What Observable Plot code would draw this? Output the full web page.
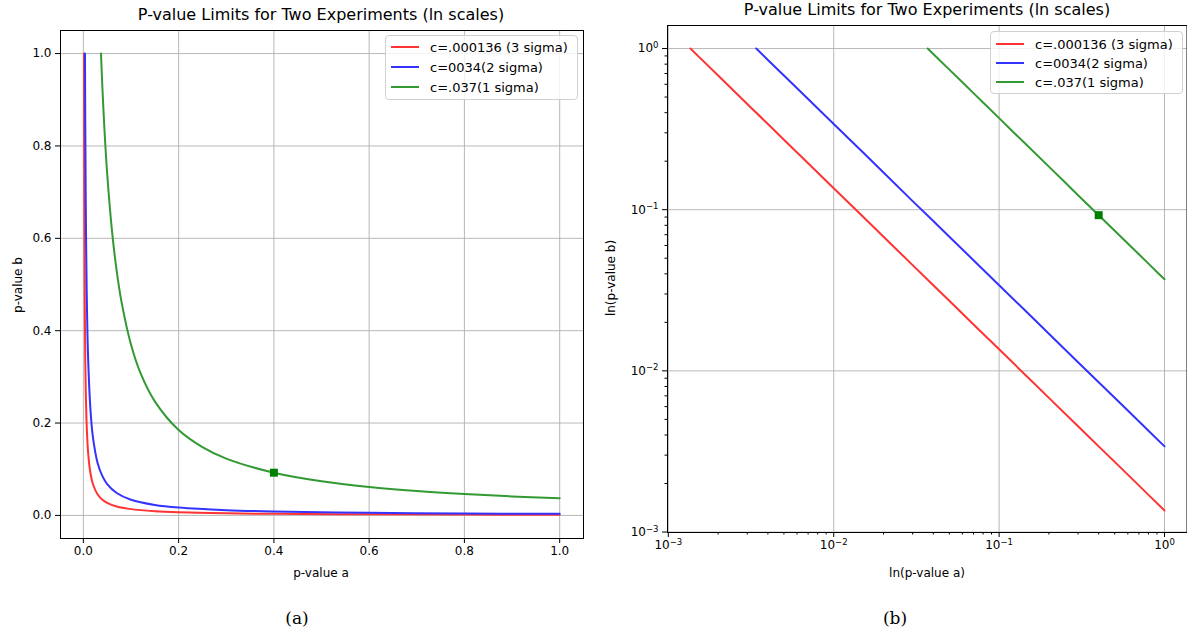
<!DOCTYPE html>
<html><head><meta charset="utf-8">
<script src="https://cdn.jsdelivr.net/npm/d3@7"></script>
<script src="https://cdn.jsdelivr.net/npm/@observablehq/plot@0.6"></script>
<style>
body{margin:0;background:#fff;font-family:"DejaVu Sans",sans-serif;}
#root{position:relative;width:1187px;height:635px;overflow:hidden;background:#fff}
.t{position:absolute;white-space:nowrap;color:#000;line-height:1}
.c{transform:translate(-50%,-50%)}
.rot{transform:translate(-50%,-50%) rotate(-90deg)}
.plot{position:absolute;top:0}
.legend{position:absolute;background:rgba(255,255,255,0.8);border:1px solid #d0d0d0;border-radius:4px;box-sizing:border-box;font-size:13px}
.row{position:absolute;left:0;height:16px;display:flex;align-items:center}
.sw{width:28px;height:2px;margin-left:5px;margin-right:11px}
</style></head><body><div id="root"></div>
<script>
// ---- data ----
const seriesNames = ["c=.000136 (3 sigma)", "c=0034(2 sigma)", "c=.037(1 sigma)"];
const seriesColors = ["#ff3333", "#3333ff", "#339933"];

const redA = [0.00136, 0.0015, 0.002, 0.003, 0.004, 0.005, 0.007, 0.01, 0.015, 0.02, 0.03, 0.04, 0.05, 0.07, 0.1, 0.15, 0.2, 0.3, 0.4, 0.6, 0.8, 1.0];
const redB = [1.0, 0.907, 0.68, 0.453, 0.34, 0.272, 0.194, 0.136, 0.0907, 0.068, 0.0453, 0.034, 0.0272, 0.0194, 0.0136, 0.00907, 0.0068, 0.00453, 0.0034, 0.00227, 0.0017, 0.00136];

const blueA = [0.0034, 0.004, 0.005, 0.007, 0.01, 0.015, 0.02, 0.03, 0.04, 0.05, 0.07, 0.1, 0.15, 0.2, 0.3, 0.4, 0.6, 0.8, 1.0];
const blueB = [1.0, 0.85, 0.68, 0.486, 0.34, 0.227, 0.17, 0.113, 0.085, 0.068, 0.0486, 0.034, 0.0227, 0.017, 0.0113, 0.0085, 0.00567, 0.00425, 0.0034];

const greenA = [0.037, 0.04, 0.045, 0.05, 0.06, 0.07, 0.08, 0.1, 0.12, 0.15, 0.2, 0.25, 0.3, 0.4, 0.5, 0.6, 0.7, 0.8, 0.9, 1.0];
const greenB = [1.0, 0.925, 0.822, 0.74, 0.617, 0.529, 0.463, 0.37, 0.308, 0.247, 0.185, 0.148, 0.123, 0.0925, 0.074, 0.0617, 0.0529, 0.0463, 0.0411, 0.037];

const markerA = [0.4];
const markerB = [0.0925];

const linTicks = [0, 0.2, 0.4, 0.6, 0.8, 1.0];
const logTicks = [0.001, 0.01, 0.1, 1];
const logTickExponents = ["\u22123", "\u22122", "\u22121", "0"];

const titleText = "P-value Limits for Two Experiments (ln scales)";
const captions = ["(a)", "(b)"];
// -------------------------------------

const seriesA = [redA, blueA, greenA];
const seriesB = [redB, blueB, greenB];
const series = seriesNames.map((name, i) => ({
  name, color: seriesColors[i],
  pts: seriesA[i].map((a, j) => ({a, b: seriesB[i][j]}))
}));
const marker = markerA.map((a, i) => ({a, b: markerB[i]}));
const minorTicks = [];
for (const base of [0.001, 0.01, 0.1]) for (let k = 2; k <= 9; k++) minorTicks.push(+(base * k).toPrecision(3));

const root = document.getElementById("root");
const gridStyle = {stroke: "#b0b0b0", strokeOpacity: 1, strokeWidth: 0.9};
const style = {fontFamily: "DejaVu Sans", fontSize: "12px", color: "#000", background: "transparent", overflow: "visible"};

function addText(txt, x, y, cls, extra) {
  const d = document.createElement("div");
  d.className = "t " + cls;
  d.textContent = txt;
  d.style.left = x + "px"; d.style.top = y + "px";
  Object.assign(d.style, extra || {});
  root.appendChild(d);
}
function addLegend(x, y, w, h, rowYs) {
  const L = document.createElement("div");
  L.className = "legend";
  Object.assign(L.style, {left: x + "px", top: y + "px", width: w + "px", height: h + "px"});
  series.forEach((s, i) => {
    const r = document.createElement("div");
    r.className = "row";
    r.style.top = (rowYs[i] - y - 8) + "px";
    const sw = document.createElement("div");
    sw.className = "sw"; sw.style.background = s.color;
    const tx = document.createElement("span");
    tx.textContent = s.name;
    r.appendChild(sw); r.appendChild(tx);
    L.appendChild(r);
  });
  root.appendChild(L);
}

// Left panel: linear scales
const left = Plot.plot({
  width: 600, height: 560,
  marginLeft: 60, marginRight: 17, marginTop: 30, marginBottom: 22,
  x: {domain: [-0.048, 1.05]},
  y: {domain: [-0.05, 1.05]},
  style,
  marks: [
    Plot.gridX(linTicks, gridStyle),
    Plot.gridY(linTicks, gridStyle),
    ...series.map(s => Plot.line(s.pts, {x: "a", y: "b", stroke: s.color, strokeWidth: 2, curve: "catmull-rom"})),
    Plot.dot(marker, {x: "a", y: "b", symbol: "square", fill: "#008000", r: 4.5}),
    Plot.axisX(linTicks, {tickFormat: d3.format(".1f"), tickSize: 5, tickPadding: 3, label: null, stroke: "#000"}),
    Plot.axisY(linTicks, {tickFormat: d3.format(".1f"), tickSize: 5, tickPadding: 4, label: null, stroke: "#000"}),
    Plot.frame({stroke: "#000", strokeWidth: 1})
  ]
});
left.classList.add("plot");
left.style.left = "0px";
root.appendChild(left);

// Right panel: log scales
const fmt = d => "10^" + logTickExponents[logTicks.indexOf(d)];
const right = Plot.plot({
  width: 587, height: 560,
  marginLeft: 67, marginRight: 0.5, marginTop: 25, marginBottom: 28,
  x: {type: "log", domain: [10 ** -3.005, 10 ** 0.136]},
  y: {type: "log", domain: [10 ** -3.003, 10 ** 0.143]},
  style,
  marks: [
    Plot.gridX(logTicks, gridStyle),
    Plot.gridY(logTicks, gridStyle),
    ...series.map(s => Plot.line(s.pts, {x: "a", y: "b", stroke: s.color, strokeWidth: 2})),
    Plot.dot(marker, {x: "a", y: "b", symbol: "square", fill: "#008000", r: 4.5}),
    Plot.axisX(minorTicks, {tickFormat: () => "", tickSize: 2.5, label: null, stroke: "#000"}),
    Plot.axisY(minorTicks, {tickFormat: () => "", tickSize: 2.5, label: null, stroke: "#000"}),
    Plot.axisX(logTicks, {tickFormat: fmt, tickSize: 5, tickPadding: 3, label: null, stroke: "#000"}),
    Plot.axisY(logTicks, {tickFormat: fmt, tickSize: 5, tickPadding: 4, label: null, stroke: "#000"}),
    Plot.frame({stroke: "#000", strokeWidth: 1})
  ]
});
right.classList.add("plot");
right.style.left = "600px";
root.appendChild(right);
// typeset "10^e" labels with a raised exponent
right.querySelectorAll("text").forEach(t => {
  const s = t.textContent;
  if (!s.startsWith("10^")) return;
  const exp = s.slice(3);
  t.textContent = "";
  const ns = "http://www.w3.org/2000/svg";
  const base = document.createElementNS(ns, "tspan");
  base.textContent = "10";
  const sup = document.createElementNS(ns, "tspan");
  sup.textContent = exp;
  sup.setAttribute("font-size", "8.5px");
  sup.setAttribute("dy", "-0.5em");
  t.appendChild(base); t.appendChild(sup);
});

// Titles, axis labels, captions
addText(titleText, 321, 15, "c", {fontSize: "16px"});
addText(titleText, 927, 10, "c", {fontSize: "16px"});
addText("p-value a", 321, 573, "c", {fontSize: "12px"});
addText("p-value b", 18, 285, "rot", {fontSize: "12px"});
addText("ln(p-value a)", 927, 573, "c", {fontSize: "12px"});
addText("ln(p-value b)", 611, 278, "rot", {fontSize: "12px"});
addText(captions[0], 297, 618, "c", {fontSize: "17px", fontFamily: "'DejaVu Serif', serif"});
addText(captions[1], 895, 618, "c", {fontSize: "17px", fontFamily: "'DejaVu Serif', serif"});

addLegend(385, 35, 193, 65, [46, 66, 86]);
addLegend(990, 31, 193, 63, [43, 62, 81]);
</script></body></html>
